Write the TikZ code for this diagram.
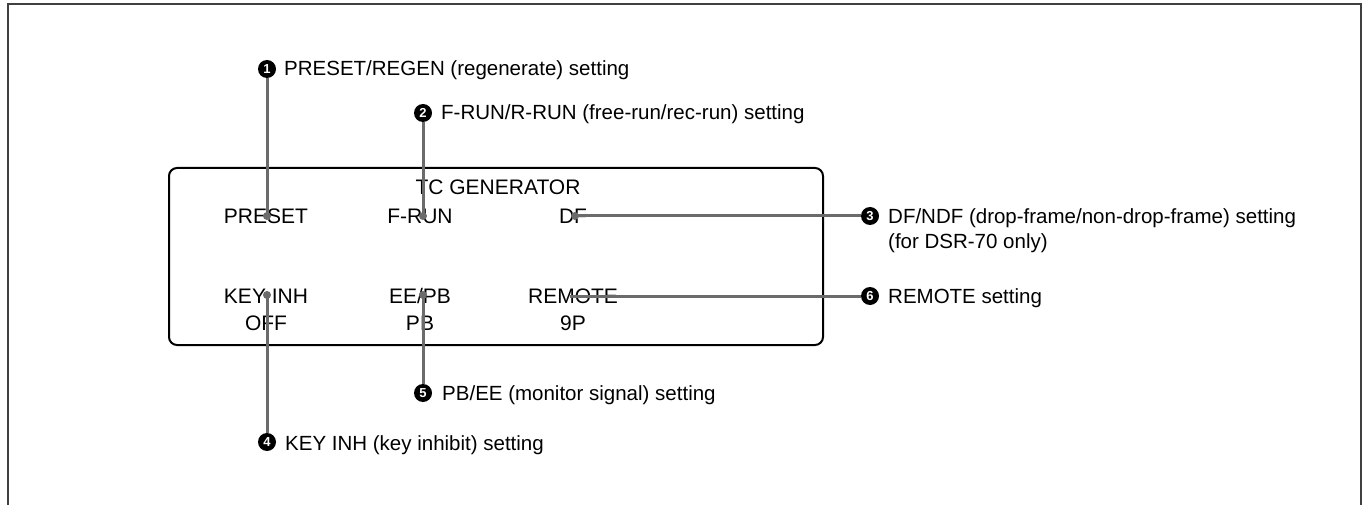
\documentclass[tikz,border=0pt]{standalone}
\usepackage{fontspec}
\setmainfont{Liberation Sans}
\begin{document}
\begin{tikzpicture}[x=1pt,y=-1pt,
  frame/.style={draw=black!75,line width=1.5pt},
  panel/.style={draw=black,line width=2pt,rounded corners=8pt},
  lcd/.style={anchor=base,inner sep=0pt,font=\fontsize{21}{25}\selectfont},
  callout/.style={anchor=base west,inner sep=0pt,align=left,font=\fontsize{20.5}{25.5}\selectfont},
  num/.style={circle,fill=black,inner sep=0pt,minimum size=18pt,text=white,font=\fontsize{13}{13}\selectfont\bfseries},
  leader/.style={draw=black!58,line width=3pt},
  dot/.style={circle,fill=black!58,inner sep=0pt,minimum size=8pt}]
\useasboundingbox (0,0) rectangle (1365,505);
% outer frame (open at bottom)
\draw[frame] (8,505) -- (8,4) -- (1361,4) -- (1361,505);
% display panel
\draw[panel] (169,168) rectangle (823,345);
% display texts
\node[lcd] (tc) at (498,195) {TC GENERATOR};
\node[lcd] (preset) at (266,223) {PRESET};
\node[lcd] (frun) at (420,223) {F-RUN};
\node[lcd] (df) at (573,223) {DF};
\node[lcd] (keyinh) at (266,303) {KEY INH};
\node[lcd] (eepb) at (420,303) {EE/PB};
\node[lcd] (remote) at (573,303) {REMOTE};
\node[lcd] (off) at (266,330) {OFF};
\node[lcd] (pb) at (420,330) {PB};
\node[lcd] (ninep) at (573,330) {9P};
% numbered markers
\node[num] (n1) at (267,69) {1};
\node[num] (n2) at (423,113) {2};
\node[num] (n3) at (870,216) {3};
\node[num] (n4) at (267,442) {4};
\node[num] (n5) at (423,393) {5};
\node[num] (n6) at (870,296) {6};
% callout texts
\node[callout] (t1) at (284,75.5) {PRESET/REGEN (regenerate) setting};
\node[callout] (t2) at (441,119.5) {F-RUN/R-RUN (free-run/rec-run) setting};
\node[callout] (t3) at (888,248.5) {DF/NDF (drop-frame/non-drop-frame) setting\\(for DSR-70 only)};
\node[callout] (t4) at (285,450) {KEY INH (key inhibit) setting};
\node[callout] (t5) at (442,400) {PB/EE (monitor signal) setting};
\node[callout] (t6) at (888,303) {REMOTE setting};
% leader end points
\node[dot] (d1) at (267,216) {};
\node[dot] (d2) at (423,216) {};
\node[dot] (d3) at (575,216) {};
\node[dot] (d4) at (267,295) {};
\node[dot] (d5) at (423,295) {};
\coordinate (d6) at (570,296);
% leaders
\draw[leader] (n1) -- (d1.center);
\draw[leader] (n2) -- (d2.center);
\draw[leader] (d3.center) -- (n3);
\draw[leader] (d4.center) -- (n4);
\draw[leader] (d5.center) -- (n5);
\draw[leader] (d6) -- (n6);
\end{tikzpicture}
\end{document}
